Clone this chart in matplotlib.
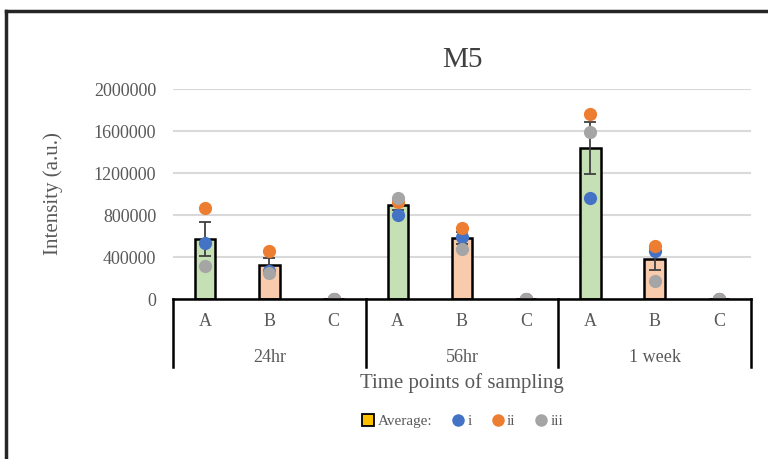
import numpy as np
import matplotlib
matplotlib.use("Agg")
import matplotlib.pyplot as plt
from matplotlib.lines import Line2D
from matplotlib.ticker import FuncFormatter
from matplotlib.transforms import blended_transform_factory

plt.rcParams['font.family'] = ['Liberation Serif', 'DejaVu Serif']

# Sampling design
time_points = ["24hr", "56hr", "1 week"]
samples = ["A", "B", "C"]

# Replicate intensities (a.u.), ordered 24hr A/B/C, 56hr A/B/C, 1 week A/B/C
rep_i = [533000, 268000, 0, 800000, 593000, 0, 959000, 460000, 0]
rep_ii = [867000, 454000, 0, 927000, 673000, 0, 1762000, 505000, 0]
rep_iii = [314000, 250000, 0, 959000, 473000, 0, 1593000, 171000, 0]

sample_fill = {"A": "#C5E0B4", "B": "#F8CBAD", "C": "#DDEBF7"}
rep_colors = ["#4472C4", "#ED7D31", "#A5A5A5"]
rep_labels = ["i", "ii", "iii"]
text_col = "#595959"

reps = np.array([rep_i, rep_ii, rep_iii], dtype=float)
avg = reps.mean(axis=0)
sem = reps.std(axis=0, ddof=1) / np.sqrt(reps.shape[0])

W, H = 768, 459
fig = plt.figure(figsize=(W / 100, H / 100), dpi=100)
ax = fig.add_axes([173 / W, 1 - 299 / H, (751 - 173) / W, (299 - 89) / H])

x = np.arange(len(time_points) * len(samples))
fills = [sample_fill[s] for _ in time_points for s in samples]

ax.bar(x, avg, width=0.32, color=fills, edgecolor="black", linewidth=1.8, zorder=2)
ax.errorbar(x, avg, yerr=sem, fmt="none", ecolor="#404040", elinewidth=1.3,
            capsize=4, capthick=1.3, zorder=3)
for vals, c in zip(reps, rep_colors):
    ax.plot(x, vals, "o", color=c, ms=9.5, mec="none", zorder=4)

ax.set_xlim(-0.5, len(x) - 0.5)
ax.set_ylim(0, 2000000)
ax.set_yticks(np.arange(0, 2000001, 400000))
ax.yaxis.set_major_formatter(FuncFormatter(lambda v, _: f"{v:.0f}"))
ax.yaxis.grid(True, color="#D9D9D9", linewidth=1.5, zorder=0)
ax.set_axisbelow(True)
ax.tick_params(axis="y", length=0, pad=12, labelsize=13, labelcolor=text_col)
ax.set_xticks([])
for side in ["top", "right", "left"]:
    ax.spines[side].set_visible(False)
ax.spines["bottom"].set_linewidth(1.8)
ax.spines["bottom"].set_zorder(5)

ax.set_title("M5", fontsize=21, color="#404040", pad=16)
ax.set_ylabel("Intensity (a.u.)", fontsize=15, color=text_col, labelpad=22)

# Two-level category axis below the plot
trans = blended_transform_factory(ax.transData, ax.transAxes)
ah = 299 - 89
for b in np.arange(-0.5, len(x), len(samples)):
    ax.add_line(Line2D([b, b], [0, -68 / ah], transform=trans, color="black",
                       linewidth=1.8, clip_on=False))
for xi, s in zip(x, [s for _ in time_points for s in samples]):
    ax.text(xi, -23 / ah, s, transform=trans, ha="center", va="center",
            fontsize=13, color=text_col)
for gi, t in enumerate(time_points):
    ax.text(gi * len(samples) + 1, -58 / ah, t, transform=trans, ha="center",
            va="center", fontsize=13, color=text_col)
fig.text(462 / W, 1 - 383 / H, "Time points of sampling", ha="center", va="center",
         fontsize=15, color=text_col)

# Legend
handles = [Line2D([], [], marker="s", ls="none", mfc="#FFC000", mec="black",
                  mew=1.3, ms=8)]
handles += [Line2D([], [], marker="o", ls="none", color=c, mec="none", ms=9)
            for c in rep_colors]
fig.legend(handles, ["Average:"] + rep_labels, loc="center",
           bbox_to_anchor=(462 / W, 1 - 421 / H), ncol=4, frameon=False,
           fontsize=11, handletextpad=0.1, columnspacing=1.2, handlelength=1.0,
           labelcolor=text_col)

# Outer frame
fig.add_artist(Line2D([6 / W, 6 / W], [0, 1 - 11 / H], transform=fig.transFigure,
                      color="#262626", linewidth=2.5))
fig.add_artist(Line2D([6 / W, 1], [1 - 11 / H, 1 - 11 / H], transform=fig.transFigure,
                      color="#262626", linewidth=2.5))

fig.savefig("out.png", dpi=100)
